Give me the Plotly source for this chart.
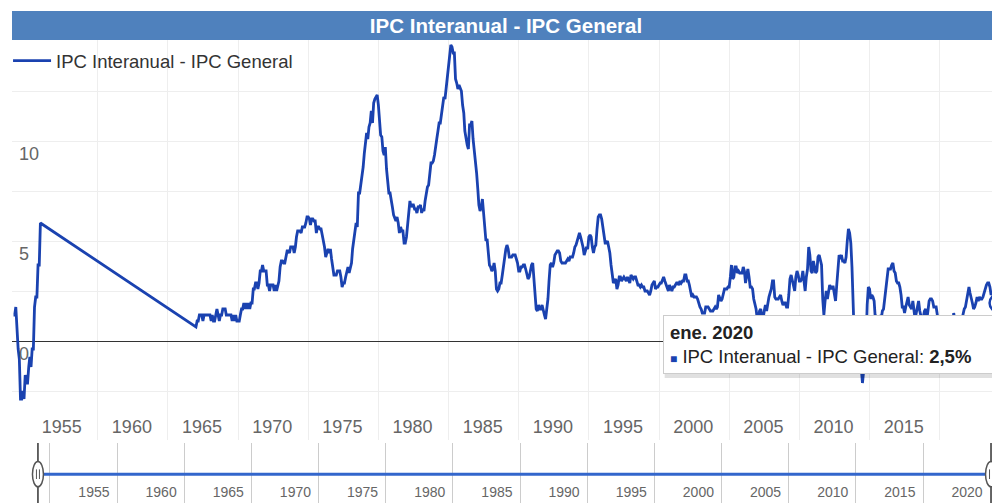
"""IPC Interanual - IPC General (serie mensual) con selector de rango abajo"""
import pandas as pd
import plotly.graph_objects as go

SERIE = "IPC Interanual - IPC General"
AZUL = "#1a42b0"
FUENTE = "Liberation Sans, Arial, sans-serif"

# variación interanual (%), mensual
ipc_1949_1950 = [
    1.3, 1.3, 1.7, 0.4, -0.4, -0.9, -2.9, -2.9, -2.5, -2.9, -1.7, -2.1,   # 1949
    -2.1, -1.3, -0.8, -1.3, -0.4, -0.4, 1.7, 2.2, 2.2, 3.8, 3.8, 5.9,     # 1950
]
ipc_1962_2020 = [
    0.7, 1.0, 1.0, 1.3, 1.3, 1.3, 1.0, 1.3, 1.3, 1.3, 1.3, 1.3,      # 1962
    1.3, 1.0, 1.3, 1.0, 1.0, 1.3, 1.6, 1.3, 1.0, 1.3, 1.3, 1.6,      # 1963
    1.6, 1.6, 1.3, 1.3, 1.3, 1.3, 1.3, 1.0, 1.3, 1.0, 1.3, 1.0,      # 1964
    1.0, 1.0, 1.3, 1.6, 1.6, 1.9, 1.6, 1.9, 1.6, 1.9, 1.6, 1.9,      # 1965
    1.9, 2.6, 2.6, 2.9, 2.9, 2.6, 2.9, 3.5, 3.5, 3.8, 3.5, 3.5,      # 1966
    3.5, 2.8, 2.8, 2.5, 2.8, 2.8, 2.8, 2.5, 2.8, 2.5, 2.8, 3.0,      # 1967
    3.7, 4.0, 4.0, 3.9, 3.9, 4.2, 4.5, 4.5, 4.4, 4.7, 4.7, 4.7,      # 1968
    4.4, 4.7, 5.2, 5.5, 5.5, 5.5, 5.4, 5.7, 5.7, 5.7, 5.9, 6.2,      # 1969
    6.2, 6.1, 5.8, 6.1, 6.1, 6.0, 6.0, 5.4, 5.7, 5.7, 5.6, 5.6,      # 1970
    5.3, 5.0, 4.7, 4.2, 4.4, 4.6, 4.4, 4.6, 4.1, 3.8, 3.3, 3.3,      # 1971
    3.3, 3.5, 3.5, 3.5, 3.2, 2.7, 2.9, 2.9, 3.2, 3.4, 3.7, 3.4,      # 1972
    3.6, 3.9, 4.6, 5.1, 5.5, 5.9, 5.7, 7.4, 7.4, 7.8, 8.3, 8.7,      # 1973
    9.4, 10.0, 10.4, 10.1, 10.7, 10.9, 11.5, 10.9, 11.9, 12.1, 12.2, 12.3,  # 1974
    11.8, 11.2, 10.3, 10.2, 9.5, 9.3, 9.7, 8.6, 7.9, 7.4, 7.4, 6.9,  # 1975
    6.7, 6.3, 6.1, 6.0, 6.2, 5.9, 5.4, 5.7, 5.5, 5.5, 4.9, 4.9,      # 1976
    5.2, 5.9, 6.4, 7.0, 6.7, 6.8, 6.8, 6.6, 6.6, 6.4, 6.7, 6.7,      # 1977
    6.8, 6.4, 6.6, 6.5, 7.0, 7.4, 7.7, 7.8, 8.3, 8.9, 8.9, 9.0,      # 1978
    9.3, 9.9, 10.1, 10.5, 10.9, 10.9, 11.3, 11.8, 12.2, 12.1, 12.6, 13.3,  # 1979
    13.9, 14.2, 14.8, 14.7, 14.4, 14.4, 13.1, 12.9, 12.6, 12.8, 12.6, 12.5,  # 1980
    11.8, 11.4, 10.5, 10.0, 9.8, 9.6, 10.8, 10.8, 11.0, 10.1, 9.6, 8.9,  # 1981
    8.4, 7.6, 6.8, 6.5, 6.7, 7.1, 6.4, 5.9, 5.0, 5.1, 4.6, 3.8,      # 1982
    3.7, 3.5, 3.6, 3.9, 3.5, 2.6, 2.5, 2.6, 2.9, 2.9, 3.3, 3.8,      # 1983
    4.2, 4.6, 4.8, 4.6, 4.2, 4.2, 4.2, 4.3, 4.3, 4.3, 4.1, 3.9,      # 1984
    3.5, 3.5, 3.7, 3.7, 3.8, 3.8, 3.6, 3.3, 3.1, 3.2, 3.5, 3.8,      # 1985
    3.9, 3.1, 2.3, 1.6, 1.5, 1.8, 1.6, 1.6, 1.8, 1.5, 1.3, 1.1,      # 1986
    1.5, 2.1, 3.0, 3.8, 3.9, 3.7, 3.9, 4.3, 4.4, 4.5, 4.5, 4.4,      # 1987
    4.0, 3.9, 3.9, 3.9, 3.9, 4.0, 4.1, 4.0, 4.2, 4.2, 4.2, 4.4,      # 1988
    4.7, 4.8, 5.0, 5.1, 5.4, 5.2, 5.0, 4.7, 4.3, 4.5, 4.7, 4.6,      # 1989
    5.2, 5.3, 5.2, 4.7, 4.4, 4.7, 4.8, 5.6, 6.2, 6.3, 6.3, 6.1,      # 1990
    5.7, 5.3, 4.9, 4.9, 5.0, 4.7, 4.4, 3.8, 3.4, 2.9, 3.0, 3.1,      # 1991
    2.6, 2.8, 3.2, 3.2, 3.0, 3.1, 3.2, 3.1, 3.0, 3.2, 3.0, 2.9,      # 1992
    3.3, 3.2, 3.1, 3.2, 3.2, 3.0, 2.8, 2.8, 2.7, 2.8, 2.7, 2.7,      # 1993
    2.5, 2.5, 2.5, 2.4, 2.3, 2.5, 2.8, 2.9, 3.0, 2.6, 2.7, 2.7,      # 1994
    2.8, 2.9, 2.9, 3.1, 3.2, 3.0, 2.8, 2.6, 2.5, 2.8, 2.6, 2.5,      # 1995
    2.7, 2.7, 2.8, 2.9, 2.9, 2.8, 3.0, 2.9, 3.0, 3.0, 3.3, 3.3,      # 1996
    3.0, 3.0, 2.8, 2.5, 2.2, 2.3, 2.2, 2.2, 2.2, 2.1, 1.8, 1.7,      # 1997
    1.6, 1.4, 1.4, 1.4, 1.7, 1.7, 1.7, 1.6, 1.5, 1.5, 1.5, 1.6,      # 1998
    1.7, 1.6, 1.7, 2.3, 2.1, 2.0, 2.1, 2.3, 2.6, 2.6, 2.6, 2.7,      # 1999
    2.7, 3.2, 3.8, 3.1, 3.2, 3.7, 3.7, 3.4, 3.5, 3.4, 3.4, 3.4,      # 2000
    3.7, 3.5, 2.9, 3.3, 3.6, 3.2, 2.7, 2.7, 2.6, 2.1, 1.9, 1.6,      # 2001
    1.1, 1.1, 1.5, 1.6, 1.2, 1.1, 1.5, 1.8, 1.5, 2.0, 2.2, 2.4,      # 2002
    2.6, 3.0, 3.0, 2.2, 2.1, 2.1, 2.1, 2.2, 2.3, 2.0, 1.8, 1.9,      # 2003
    1.9, 1.7, 1.7, 2.3, 3.1, 3.3, 3.0, 2.7, 2.5, 3.2, 3.5, 3.3,      # 2004
    3.0, 3.0, 3.1, 3.5, 2.8, 2.5, 3.2, 3.6, 4.7, 4.3, 3.5, 3.4,      # 2005
    4.0, 3.6, 3.4, 3.5, 4.2, 4.3, 4.1, 3.8, 2.1, 1.3, 2.0, 2.5,      # 2006
    2.1, 2.4, 2.8, 2.6, 2.7, 2.7, 2.4, 2.0, 2.8, 3.5, 4.3, 4.1,      # 2007
    4.3, 4.0, 4.0, 3.9, 4.2, 5.0, 5.6, 5.4, 4.9, 3.7, 1.1, 0.1,      # 2008
    0.0, 0.2, -0.4, -0.7, -1.3, -1.4, -2.1, -1.5, -1.3, -0.2, 1.8, 2.7,  # 2009
    2.6, 2.1, 2.3, 2.2, 2.0, 1.1, 1.2, 1.1, 1.1, 1.2, 1.1, 1.5,      # 2010
    1.6, 2.1, 2.7, 3.2, 3.6, 3.6, 3.6, 3.8, 3.9, 3.5, 3.4, 3.0,      # 2011
    2.9, 2.9, 2.7, 2.3, 1.7, 1.7, 1.4, 1.7, 2.0, 2.2, 1.8, 1.7,      # 2012
    1.6, 2.0, 1.5, 1.1, 1.4, 1.8, 2.0, 1.5, 1.2, 1.0, 1.2, 1.5,      # 2013
    1.6, 1.1, 1.5, 2.0, 2.1, 2.1, 2.0, 1.7, 1.7, 1.7, 1.3, 0.8,      # 2014
    -0.1, 0.0, -0.1, -0.2, 0.0, 0.1, 0.2, 0.2, 0.0, 0.2, 0.5, 0.7,   # 2015
    1.4, 1.0, 0.9, 1.1, 1.0, 1.0, 0.8, 1.1, 1.5, 1.6, 1.7, 2.1,      # 2016
    2.5, 2.7, 2.4, 2.2, 1.9, 1.6, 1.7, 1.9, 2.2, 2.0, 2.2, 2.1,      # 2017
    2.1, 2.2, 2.4, 2.5, 2.8, 2.9, 2.9, 2.7, 2.3, 2.5, 2.2, 1.9,      # 2018
    1.6, 1.5, 1.9, 2.0, 1.8, 1.6, 1.8, 1.7, 1.7, 1.8, 2.1, 2.3,      # 2019
    2.5,                                                             # 2020
]
fechas = (list(pd.date_range("1949-01-01", periods=len(ipc_1949_1950), freq="MS"))
          + list(pd.date_range("1962-01-01", periods=len(ipc_1962_2020), freq="MS")))
valores = ipc_1949_1950 + ipc_1962_2020

# ejes
anos_grid = list(range(1950, 2020, 5))          # rejilla vertical del gráfico
anos_selector = list(range(1955, 2025, 5))      # etiquetas del selector de rango
y_ticks = [0, 5, 10]

# punto resaltado (hover) y texto del tooltip
punto = fechas.index(pd.Timestamp("2019-03-01"))
tooltip_fecha = "ene. 2020"
tooltip_valor = f"{valores[-1]:.1f}".replace(".", ",") + "%"

fig = go.Figure()
fig.add_trace(go.Scatter(
    x=fechas, y=valores, mode="lines", name=SERIE,
    line=dict(color=AZUL, width=2.8),
    hovertemplate="%{x|%b %Y}<br>" + SERIE + ": %{y:.1f}%<extra></extra>",
))
# marcador del hover (anillo + punto)
fig.add_trace(go.Scatter(
    x=[fechas[punto]], y=[valores[punto]], mode="markers", showlegend=False, hoverinfo="skip",
    marker=dict(symbol="circle-open", size=17, color=AZUL, line=dict(width=2.5, color=AZUL)),
))
fig.add_trace(go.Scatter(
    x=[fechas[punto]], y=[valores[punto]], mode="markers", showlegend=False, hoverinfo="skip",
    marker=dict(symbol="circle", size=8, color=AZUL),
))
# eje vacío para el selector
fig.add_trace(go.Scatter(x=[], y=[], xaxis="x2", yaxis="y2", showlegend=False))

# la página añade 8 px de margen: la figura cubre los píxeles 8..1000 x 8..503 de la vista
OFF = 8
W, H, T = 1000 - OFF, 503 - OFF, 40 - OFF
alto_paper = H - T
def py(px):
    return (H - (px - OFF)) / alto_paper

def px2(px):
    return (px - 10) / 990

shapes = [
    # barra del título
    dict(type="rect", xref="paper", yref="paper", x0=0, x1=1, y0=py(40), y1=py(11),
         fillcolor="#4f81bd", line=dict(width=0), layer="above"),
    # sombra del tooltip
    dict(type="rect", xref="paper", yref="paper", x0=px2(664), x1=px2(995), y0=py(378), y1=py(317),
         fillcolor="rgba(0,0,0,0.12)", line=dict(width=0), layer="above"),
    # selector: línea azul
    dict(type="line", xref="x2 domain", yref="y2 domain", x0=px2(36), x1=px2(991), y0=0.48, y1=0.48,
         line=dict(color="#3366cc", width=3)),
]
for xh in (36, 991):
    xd = px2(xh)
    shapes.append(dict(type="line", xref="x2 domain", yref="y2 domain", x0=xd, x1=xd, y0=0, y1=1,
                       line=dict(color="#333333", width=1.5)))
    shapes.append(dict(type="circle", xref="x2 domain", yref="y2 domain",
                       x0=xd - 5.5 / 990, x1=xd + 5.5 / 990, y0=0.27, y1=0.69,
                       fillcolor="white", line=dict(color="#555555", width=1.5)))
    for dx in (-1.5, 1.5):
        shapes.append(dict(type="line", xref="x2 domain", yref="y2 domain",
                           x0=xd + dx / 990, x1=xd + dx / 990, y0=0.4, y1=0.56,
                           line=dict(color="#555555", width=1)))

fig.update_layout(
    width=W, height=H,
    margin=dict(l=10 - OFF, r=0, t=T, b=0),
    paper_bgcolor="white", plot_bgcolor="white",
    font=dict(family=FUENTE, size=18, color="#333333"),
    title=dict(text="<b>" + SERIE + "</b>", x=0.5, xref="paper", xanchor="center",
               y=1 - (25.5 - OFF) / H, yref="container", yanchor="middle",
               font=dict(family=FUENTE, size=20.5, color="white")),
    showlegend=True,
    legend=dict(x=-0.004, xanchor="left", y=py(42), yanchor="top", bgcolor="rgba(0,0,0,0)",
                font=dict(size=18.5, color="#333333"), itemwidth=38),
    xaxis=dict(
        type="date", domain=[0, 1], anchor="y",
        range=["1948-11-22", "2019-04-20"],
        tickvals=[f"{a}-01-01" for a in anos_grid],
        ticktext=["" if a == 1950 else str(a) for a in anos_grid],
        ticklabelposition="inside", ticklabelshift=-36,
        showgrid=True, gridcolor="#eeeeee", zeroline=False, showline=False, ticks="",
        tickfont=dict(size=18, color="#666666"),
    ),
    yaxis=dict(
        domain=[py(440), 1], anchor="x",
        range=[-4.95, 15.05],
        tickvals=y_ticks, ticktext=[str(v) for v in y_ticks],
        ticklabelposition="inside", ticklabelshift=13, ticklabelstandoff=4,
        showgrid=True, gridcolor="#eeeeee",
        minor=dict(tickmode="linear", tick0=0, dtick=2.5, showgrid=True, gridcolor="#eeeeee", ticks=""),
        zeroline=True, zerolinecolor="#333333", zerolinewidth=1, showline=False, ticks="",
        tickfont=dict(size=18, color="#666666"),
    ),
    xaxis2=dict(
        type="date", domain=[0, 1], anchor="y2",
        range=["1952-03-05", "2025-09-24"],
        tickvals=[f"{a}-01-01" for a in anos_selector],
        ticktext=[str(a) for a in anos_selector],
        ticklabelposition="inside", ticklabelshift=44,
        showgrid=True, gridcolor="#cccccc", zeroline=False, showline=False, ticks="",
        tickfont=dict(size=14, color="#666666"),
    ),
    yaxis2=dict(domain=[0, py(443)], anchor="x2", range=[0, 1], visible=False),
    shapes=shapes,
    annotations=[dict(
        xref="paper", yref="paper", x=px2(662), y=py(315), xanchor="left", yanchor="top",
        text=(f"<b>{tooltip_fecha}</b><br><span style='color:{AZUL};font-size:12px'>■</span> "
              f"{SERIE}: <b>{tooltip_valor}</b>"),
        align="left", showarrow=False, width=318,
        bgcolor="white", bordercolor="#cccccc", borderwidth=1, borderpad=6,
        font=dict(family=FUENTE, size=18.5, color="#222222"),
    )],
)

fig.write_html("out.html")
